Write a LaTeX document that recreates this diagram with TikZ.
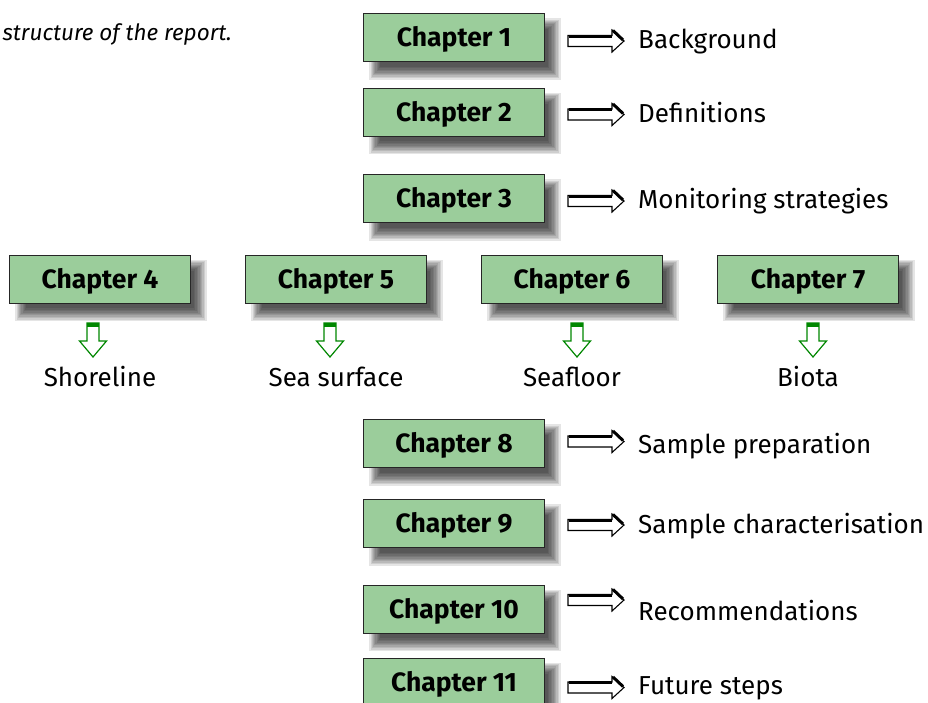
\documentclass[tikz,border=0pt]{standalone}
\usepackage{fontspec}
\setmainfont{Fira Sans}
\usetikzlibrary{calc}
\pgfdeclarelayer{bg}
\pgfsetlayers{bg,main}
\definecolor{boxgreen}{RGB}{155,205,155}
\definecolor{arrgreen}{RGB}{0,135,0}
\tikzset{
  chap/.style={draw=black!85, line width=0.8pt, fill=boxgreen, minimum width=181pt,
    minimum height=48pt, inner sep=0pt, text height=18.5pt, text depth=0pt,
    font=\fontsize{26.5}{30}\selectfont\bfseries},
  lab/.style={anchor=west, inner sep=0pt, text height=18pt, text depth=0pt,
    font=\fontsize{26}{30}\selectfont},
  sublab/.style={inner sep=0pt, text height=18pt, text depth=0pt,
    font=\fontsize{26}{30}\selectfont},
  rarr/.pic={\draw[line width=1.1pt, fill=white, line join=miter]
      (0,-5.5) -- (44,-5.5) -- (44,-11) -- (56,0) -- (44,11) -- (44,5.5) -- (0,5.5) -- cycle;
      \draw[line width=3pt, line cap=butt] (1,-5) -- (44,-5);
      \draw[line width=3pt, line cap=butt] (45,-10.5) -- (55,-1);},
  darr/.pic={\draw[line width=1.2pt, draw=arrgreen, fill=white, line join=miter]
      (-6,0) -- (6,0) -- (6,18) -- (13.5,18) -- (0,34) -- (-13.5,18) -- (-6,18) -- cycle;
      \fill[arrgreen] (-6,0) rectangle (6,4);},
}
\begin{document}
\begin{tikzpicture}[x=1pt,y=-1pt]
\useasboundingbox (0,0) rectangle (928,702);
\clip (0,0) rectangle (928,702);
\node[anchor=east, inner sep=0pt, text height=14pt, text depth=0pt, font=\fontsize{22.5}{26}\selectfont\itshape] (cap) at (232,33) {structure of the report.};
% chapter boxes
\node[chap] (c1) at (454,37.5) {Chapter 1};
\node[chap] (c2) at (454,112) {Chapter 2};
\node[chap] (c3) at (454,198.5) {Chapter 3};
\node[chap] (c4) at (100,279) {Chapter 4};
\node[chap] (c5) at (336,279) {Chapter 5};
\node[chap] (c6) at (572,279) {Chapter 6};
\node[chap] (c7) at (808,279) {Chapter 7};
\node[chap] (c8) at (454,443.5) {Chapter 8};
\node[chap] (c9) at (454,523.5) {Chapter 9};
\node[chap] (c10) at (454,609) {Chapter 10};
\node[chap] (c11) at (454,682) {Chapter 11};
% shadows
\begin{pgfonlayer}{bg}
\foreach \n in {c1,c2,c3,c4,c5,c6,c7,c8,c9,c10,c11}{
  \foreach \i in {0,...,9}{
    \fill[black, opacity=0.1]
      ($(\n.north west)+(17-\i*1.2,16-\i*1.2)$) rectangle
      ($(\n.south east)+(3+\i*1.4,5+\i*1.4)$);
  }
}
\end{pgfonlayer}
% right arrows and labels
\pic at (568,41) {rarr};
\pic at (568,114.5) {rarr};
\pic at (568,201) {rarr};
\pic at (568,441.5) {rarr};
\pic at (568,525) {rarr};
\pic at (568,600) {rarr};
\pic at (568,687.5) {rarr};
\node[lab] (l1) at (638,39) {Background};
\node[lab] (l2) at (638,113) {Definitions};
\node[lab] (l3) at (638,199) {Monitoring strategies};
\node[lab] (l8) at (638,444) {Sample preparation};
\node[lab] (l9) at (638,524) {Sample characterisation};
\node[lab] (l10) at (638,611) {Recommendations};
\node[lab] (l11) at (638,685) {Future steps};
% down arrows and labels
\pic at (93,323) {darr};
\pic at (330,323) {darr};
\pic at (577,323) {darr};
\pic at (813,323) {darr};
\node[sublab] (s4) at (100,377) {Shoreline};
\node[sublab] (s5) at (336,377) {Sea surface};
\node[sublab] (s6) at (572,377) {Seafloor};
\node[sublab] (s7) at (808,377) {Biota};
\end{tikzpicture}
\end{document}
